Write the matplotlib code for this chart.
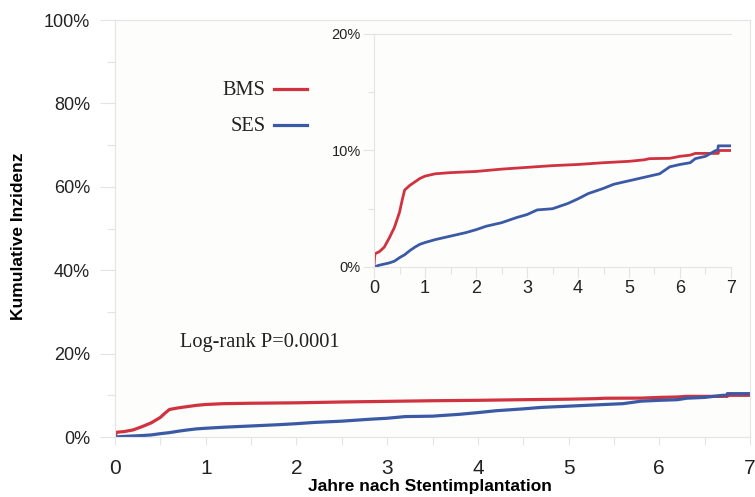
import matplotlib
matplotlib.use("Agg")
import matplotlib.pyplot as plt
from matplotlib.ticker import MultipleLocator, FuncFormatter

# Kumulative Inzidenz (%)
bms_t = [0, 0.01, 0.02, 0.1, 0.2, 0.3, 0.4, 0.5, 0.55, 0.6, 0.7, 0.8, 0.9, 1.0,
         1.2, 1.5, 2.0, 2.5, 3.0, 3.5, 4.0, 4.5, 5.0, 5.3, 5.4, 5.8, 6.0, 6.2,
         6.3, 6.75, 6.76, 7.0]
bms_v = [0, 0.8, 1.15, 1.3, 1.7, 2.5, 3.4, 4.7, 5.7, 6.6, 7.0, 7.3, 7.6, 7.8,
         8.0, 8.1, 8.2, 8.4, 8.55, 8.7, 8.8, 8.95, 9.07, 9.2, 9.3, 9.33, 9.5,
         9.6, 9.75, 9.75, 10.0, 10.0]

ses_t = [0, 0.1, 0.2, 0.3, 0.4, 0.5, 0.6, 0.7, 0.8, 0.9, 1.0, 1.2, 1.5, 1.8,
         2.0, 2.2, 2.5, 2.8, 3.0, 3.2, 3.5, 3.8, 4.0, 4.2, 4.5, 4.7, 5.0, 5.3,
         5.6, 5.8, 6.0, 6.2, 6.3, 6.5, 6.6, 6.7, 6.74, 6.75, 7.0]
ses_v = [0, 0.15, 0.25, 0.35, 0.5, 0.8, 1.05, 1.4, 1.7, 1.95, 2.1, 2.35, 2.65,
         2.95, 3.2, 3.5, 3.8, 4.25, 4.5, 4.9, 5.0, 5.45, 5.85, 6.3, 6.75, 7.1,
         7.4, 7.7, 8.0, 8.6, 8.8, 8.95, 9.3, 9.5, 9.75, 10.0, 10.0, 10.4, 10.4]

red = "#d1323f"
blue = "#3b5aa6"
light = "#e4e4e4"
txt = "#222222"

plt.rcParams["font.family"] = ["Liberation Sans", "DejaVu Sans"]

fig = plt.figure(figsize=(7.55, 4.97), dpi=100)
ax = fig.add_axes([0.1523, 0.1207, 0.8411, 0.8390])
ax.set_facecolor("#fdfdfb")

ax.plot(bms_t, bms_v, color=red, lw=2.3, solid_joinstyle="round")
ax.plot(ses_t, ses_v, color=blue, lw=2.3, solid_joinstyle="round")

ax.set_xlim(0, 7)
ax.set_ylim(0, 100)
ax.xaxis.set_major_locator(MultipleLocator(1))
ax.xaxis.set_minor_locator(MultipleLocator(0.5))
ax.yaxis.set_major_locator(MultipleLocator(20))
ax.yaxis.set_minor_locator(MultipleLocator(10))
ax.yaxis.set_major_formatter(FuncFormatter(lambda v, p: "{:.0f}%".format(v)))
for s in ax.spines.values():
    s.set_color(light)
    s.set_linewidth(0.8)
ax.tick_params(axis="x", which="major", length=6, width=0.8, color=light,
               labelsize=15, labelcolor=txt, pad=10)
ax.tick_params(axis="x", which="minor", length=6, width=0.8, color=light)
ax.tick_params(axis="y", which="major", length=11, width=0.8, color=light,
               labelsize=13, labelcolor=txt, pad=7)
ax.tick_params(axis="y", which="minor", length=6, width=0.8, color=light)

# axis titles placed in figure pixels
fig.text(19 / 755, 1 - 236 / 497, "Kumulative Inzidenz", rotation=90,
         ha="center", va="center", fontsize=12.5, fontweight="bold")
fig.text(430 / 755, 1 - 487 / 497, "Jahre nach Stentimplantation",
         ha="center", va="center", fontsize=12.5, fontweight="bold")

# legend drawn by hand as in the original
serif = ["Liberation Serif", "DejaVu Serif"]
for name, col, yy in [("BMS", red, 0.818), ("SES", blue, 0.746)]:
    fig.text(0.352, yy, name, ha="right", va="center", fontsize=14.7,
             family=serif, color=txt)
    fig.add_artist(plt.Line2D([0.363, 0.407], [yy + 0.002, yy + 0.002],
                              color=col, lw=2.3, transform=fig.transFigure))

fig.text(0.239, 1 - 343 / 497, "Log-rank P=0.0001", ha="left", va="center",
         fontsize=14.7, family=serif, color=txt)

# inset
ins = fig.add_axes([0.4954, 0.4628, 0.4728, 0.4688])
ins.set_facecolor("none")
ins.plot(bms_t, bms_v, color=red, lw=2.0)
ins.plot(ses_t, ses_v, color=blue, lw=2.0)
ins.set_xlim(0, 7)
ins.set_ylim(0, 20)
ins.xaxis.set_major_locator(MultipleLocator(1))
ins.xaxis.set_minor_locator(MultipleLocator(0.5))
ins.yaxis.set_major_locator(MultipleLocator(10))
ins.yaxis.set_minor_locator(MultipleLocator(5))
ins.yaxis.set_major_formatter(FuncFormatter(lambda v, p: "{:.0f}%".format(v)))
ins.spines["right"].set_visible(False)
for k in ["left", "top", "bottom"]:
    ins.spines[k].set_color(light)
    ins.spines[k].set_linewidth(0.8)
ins.tick_params(axis="x", which="major", length=8, width=0.8, color=light,
                labelsize=13, labelcolor=txt, pad=1.5)
ins.tick_params(axis="x", which="minor", length=5, width=0.8, color=light)
ins.tick_params(axis="y", which="major", length=8, width=0.8, color=light,
                labelsize=10.5, labelcolor=txt, pad=1.5)
ins.tick_params(axis="y", which="minor", length=4, width=0.8, color=light)

fig.savefig("out.png", dpi=100)
